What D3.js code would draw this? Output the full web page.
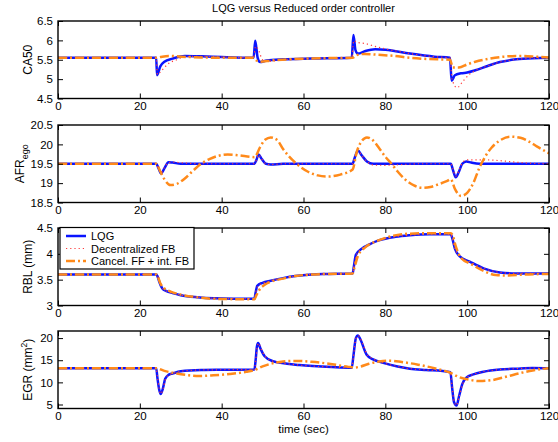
<!DOCTYPE html>
<html>
<head>
<meta charset="utf-8">
<script src="https://cdn.jsdelivr.net/npm/d3@7"></script>
<style>
  body { margin: 0; background: #fff; }
  svg { font-family: "Liberation Sans", Arial, Helvetica, sans-serif; }
</style>
</head>
<body>
<svg id="chart" width="558" height="442"></svg>
<script>
// ---- Data ([time (sec), value])
const xTicks = [0, 20, 40, 60, 80, 100, 120];

const ca50Lqg = [[0,5.55],[24,5.55],[24.2,5.1],[25,5.33],[26,5.45],[28,5.53],[31,5.6],[35,5.59],[40,5.57],[47.8,5.55],[48.2,5.99],[48.8,5.55],[49.4,5.44],[51,5.48],[55,5.51],[62,5.53],[71.8,5.55],[72.2,6.14],[72.7,5.75],[73.3,5.66],[75,5.72],[77.5,5.77],[80,5.76],[86,5.66],[92,5.58],[95.8,5.55],[96.2,4.96],[97,5.1],[98.5,5.15],[100,5.17],[102,5.23],[105,5.34],[108,5.44],[112,5.51],[116,5.54],[120,5.55]];
const ca50Dec = [[0,5.55],[24,5.55],[24.3,5.12],[25,5.18],[26,5.3],[27,5.4],[29,5.5],[31,5.58],[35,5.59],[40,5.57],[47.8,5.55],[48.3,5.85],[49,5.75],[50,5.5],[51,5.46],[55,5.5],[62,5.53],[71.8,5.55],[72.3,6.0],[73,5.95],[75,5.92],[77,5.86],[80,5.78],[83,5.72],[86,5.66],[92,5.58],[95.8,5.55],[96.3,5.0],[97.5,4.78],[99,4.95],[100.5,5.12],[102,5.22],[105,5.34],[108,5.44],[112,5.51],[116,5.54],[120,5.55]];
const ca50Ff = [[0,5.55],[24,5.55],[25,5.57],[27,5.6],[30,5.58],[35,5.56],[40,5.55],[47.8,5.55],[48.5,5.48],[49.5,5.45],[52,5.48],[56,5.51],[65,5.54],[72,5.55],[73,5.62],[75,5.65],[78,5.63],[82,5.6],[86,5.55],[90,5.52],[95.8,5.5],[96.5,5.3],[98,5.3],[100,5.38],[102,5.45],[105,5.52],[109,5.58],[113,5.6],[117,5.58],[120,5.56]];

const afrLqg = [[0,19.5],[24,19.5],[24.5,19.4],[25.2,19.25],[26,19.38],[27,19.54],[28,19.53],[30,19.5],[48,19.5],[48.5,19.6],[49,19.74],[49.8,19.62],[50.8,19.5],[52,19.48],[55,19.5],[72,19.5],[72.5,19.65],[73.3,19.84],[74.2,19.72],[75.5,19.56],[77,19.5],[96,19.5],[96.5,19.35],[97.2,19.15],[98,19.3],[98.8,19.5],[99.8,19.56],[101,19.53],[103,19.5],[120,19.5]];
const afrDec = [[0,19.5],[24,19.5],[24.5,19.4],[25.2,19.27],[26,19.4],[27,19.53],[28,19.54],[31,19.52],[35,19.5],[48,19.5],[48.5,19.6],[49,19.73],[49.8,19.62],[50.8,19.5],[52,19.48],[55,19.5],[72,19.5],[72.5,19.65],[73.3,19.82],[74.2,19.72],[75.5,19.56],[77,19.47],[80,19.46],[84,19.48],[88,19.5],[96,19.5],[96.5,19.37],[97.2,19.18],[98,19.32],[99,19.55],[100,19.6],[104,19.6],[108,19.58],[112,19.54],[116,19.51],[120,19.5]];
const afrFf = [[0,19.5],[24,19.5],[25,19.3],[26,19.1],[27.5,18.95],[29,18.98],[31,19.12],[33,19.32],[35,19.5],[37,19.62],[39,19.7],[41.5,19.74],[44,19.72],[47,19.68],[48,19.67],[49.4,19.93],[50.6,20.12],[52,20.18],[53.5,20.12],[55,19.88],[58.3,19.5],[61,19.3],[63.5,19.2],[66,19.17],[69,19.22],[72,19.35],[73,19.8],[74.2,20.08],[75.5,20.18],[77,20.1],[78.5,19.9],[80,19.68],[81.5,19.5],[83,19.3],[85,19.08],[87,18.94],[89,18.88],[91,18.9],[93,18.97],[95,19.05],[96,19.1],[97,18.85],[98.5,18.67],[100,18.75],[101.5,19.0],[103,19.4],[104.5,19.7],[106,19.92],[108,20.1],[110.5,20.2],[113,20.17],[115,20.08],[117,19.95],[120,19.77]];

const rblLqg = [[0,3.6],[24,3.6],[24.3,3.57],[24.8,3.45],[25.5,3.33],[26.5,3.28],[28,3.24],[30,3.2],[34,3.16],[38,3.14],[48,3.13],[48.3,3.25],[48.7,3.38],[50,3.44],[52,3.48],[55,3.53],[58,3.57],[62,3.6],[66,3.61],[72,3.62],[72.3,3.75],[72.8,3.98],[74.4,4.11],[76,4.18],[78.4,4.26],[82.5,4.33],[86,4.36],[90.7,4.38],[96,4.38],[96.3,4.32],[97,4.1],[98.2,3.95],[100.6,3.85],[104,3.72],[108,3.64],[112,3.62],[120,3.62]];
const rblDec = [[0,3.6],[24,3.6],[24.3,3.57],[24.8,3.46],[25.5,3.34],[26.5,3.28],[28,3.24],[30,3.2],[34,3.16],[38,3.14],[48,3.13],[48.3,3.24],[48.8,3.37],[50,3.43],[52,3.48],[55,3.53],[58,3.57],[62,3.6],[66,3.61],[72,3.62],[72.3,3.74],[72.9,3.97],[74.4,4.11],[76,4.18],[78.4,4.26],[82.5,4.33],[86,4.36],[90.7,4.38],[96,4.38],[96.3,4.31],[97,4.1],[98.2,3.95],[100.6,3.85],[104,3.72],[108,3.64],[112,3.62],[120,3.62]];
const rblFf = [[0,3.6],[24,3.6],[24.4,3.56],[25,3.43],[26,3.33],[27.5,3.27],[30,3.21],[34,3.16],[38,3.13],[48,3.12],[48.5,3.2],[49.2,3.3],[50.5,3.4],[52,3.46],[55,3.52],[58,3.57],[62,3.6],[66,3.61],[72,3.62],[72.5,3.75],[73.3,3.96],[75,4.12],[78,4.25],[82,4.35],[86,4.39],[91,4.4],[96,4.4],[96.5,4.35],[97.2,4.15],[98.5,3.92],[101,3.8],[104,3.67],[107,3.59],[110,3.58],[114,3.6],[120,3.61]];

const egrLqg = [[0,13.2],[24,13.2],[24.3,11],[24.7,8.5],[25.1,7.37],[25.6,8.5],[26.2,10.8],[27,11.7],[28,12.0],[30,12.5],[35,12.8],[40,12.85],[48,12.9],[48.3,15],[48.6,18],[48.9,18.9],[49.5,17.6],[50.5,15.9],[52.5,14.8],[56,14.2],[59,13.9],[67,13.45],[71.8,13.3],[72.2,16],[72.8,20],[73.3,20.6],[74,19.5],[75.4,16.3],[77,15.2],[79.5,14.4],[83,13.6],[86,13.1],[90,12.8],[94,12.56],[95.9,12.3],[96.3,9],[96.8,5.5],[97.4,4.77],[98,6.8],[98.8,9.6],[99.8,11.06],[101.5,11.8],[104,12.4],[108,12.9],[112,13.1],[116,13.25],[120,13.2]];
const egrDec = [[0,13.2],[24,13.2],[24.3,11.2],[24.7,8.7],[25.1,7.4],[25.7,8.6],[26.3,10.8],[27.1,11.7],[28,12.0],[30,12.5],[35,12.8],[40,12.85],[48,12.9],[48.3,14.8],[48.7,18],[49,18.8],[49.6,17.6],[50.6,15.9],[52.5,14.8],[56,14.2],[59,13.9],[67,13.45],[71.8,13.3],[72.2,15.8],[72.8,19.8],[73.4,20.5],[74.1,19.5],[75.5,16.4],[77,15.3],[79.5,14.4],[83,13.6],[86,13.1],[90,12.8],[94,12.56],[95.9,12.3],[96.3,9.2],[96.8,5.7],[97.4,4.8],[98,6.7],[98.9,9.6],[99.9,11.06],[101.5,11.8],[104,12.4],[108,12.9],[112,13.1],[116,13.25],[120,13.2]];
const egrFf = [[0,13.2],[24,13.2],[26,12.6],[29,12.0],[32,11.6],[34.5,11.45],[38,11.6],[42,11.9],[46,12.4],[48,12.8],[50,13.6],[52,14.2],[55,14.7],[58,14.85],[62,14.65],[67,14.1],[71,13.5],[72.5,13.35],[74,13.6],[76,14.2],[78.5,14.7],[81,14.9],[84,14.6],[88,14.0],[92,13.2],[95.8,12.2],[98,11.2],[100.5,10.6],[103,10.3],[106,10.5],[110,11.4],[113,12.1],[116,12.7],[120,13.2]];

const legendLabels = ['LQG', 'Decentralized FB', 'Cancel. FF + int. FB'];

// ---- Styles of the three series
const seriesStyle = [
    { color: '#0a14ff', width: 2.5, dash: null },
    { color: '#ff3a3a', width: 1.2, dash: '1.2,3' },
    { color: '#ff8a1a', width: 2.5, dash: '9,3,2,3' }
];

const panels = [
    { top: 21,  domain: [4.5, 6.5],   ticks: [4.5, 5, 5.5, 6, 6.5], label: 'ca50', data: [ca50Lqg, ca50Dec, ca50Ff] },
    { top: 125, domain: [18.5, 20.5], ticks: [18.5, 19, 19.5, 20, 20.5], label: 'afr', data: [afrLqg, afrDec, afrFf] },
    { top: 228, domain: [3, 4.5],     ticks: [3, 3.5, 4, 4.5], label: 'rbl', data: [rblLqg, rblDec, rblFf] },
    { top: 331, domain: [4.1, 21.6],  ticks: [5, 10, 15, 20], label: 'egr', data: [egrLqg, egrDec, egrFf] }
];

const svg = d3.select('#chart');
const left = 58, right = 549, plotH = 77.5;
const tickLen = 5;

const x = d3.scaleLinear().domain([0, 120]).range([left, right]);

// Title
svg.append('text')
    .attr('x', (left + right) / 2)
    .attr('y', 12)
    .attr('text-anchor', 'middle')
    .style('font-size', '11px')
    .text('LQG versus Reduced order controller');

panels.forEach((p, i) => {
    const y = d3.scaleLinear().domain(p.domain).range([p.top + plotH, p.top]);
    const g = svg.append('g');

    const clipId = 'clip' + i;
    svg.append('clipPath').attr('id', clipId)
        .append('rect')
        .attr('x', left).attr('y', p.top)
        .attr('width', right - left).attr('height', plotH);

    // Lines
    const line = d3.line()
        .x(d => x(d[0]))
        .y(d => y(d[1]))
        .curve(d3.curveMonotoneX);

    const lines = g.append('g').attr('clip-path', `url(#${clipId})`);
    p.data.forEach((ser, k) => {
        const st = seriesStyle[k];
        lines.append('path')
            .datum(ser)
            .attr('d', line)
            .attr('fill', 'none')
            .attr('stroke', st.color)
            .attr('stroke-width', st.width)
            .attr('stroke-linejoin', 'round')
            .attr('stroke-dasharray', st.dash);
    });

    // Axes (ticks inside, mirrored on top/right)
    const axisB = g.append('g')
        .attr('transform', `translate(0,${p.top + plotH})`)
        .call(d3.axisBottom(x).tickValues(xTicks).tickSize(-tickLen).tickPadding(3).tickFormat(d3.format('d')));
    const axisT = g.append('g')
        .attr('transform', `translate(0,${p.top})`)
        .call(d3.axisTop(x).tickValues(xTicks).tickSize(-tickLen).tickFormat(''));
    const axisL = g.append('g')
        .attr('transform', `translate(${left},0)`)
        .call(d3.axisLeft(y).tickValues(p.ticks).tickSize(-tickLen).tickPadding(5).tickFormat(d3.format('')));
    const axisR = g.append('g')
        .attr('transform', `translate(${right},0)`)
        .call(d3.axisRight(y).tickValues(p.ticks).tickSize(-tickLen).tickFormat(''));

    [axisB, axisT, axisL, axisR].forEach(a => {
        a.select('.domain').remove();
        a.selectAll('.tick line').attr('stroke', '#000').attr('stroke-width', 1);
        a.selectAll('text')
            .style('font-size', '11.5px')
            .style('font-family', '"Liberation Sans", Arial, sans-serif')
            .attr('fill', '#000');
    });

    g.append('rect')
        .attr('x', left).attr('y', p.top)
        .attr('width', right - left).attr('height', plotH)
        .attr('fill', 'none')
        .attr('stroke', '#000')
        .attr('stroke-width', 1.4);

    // Y labels
    const lab = g.append('text')
        .attr('transform', `translate(${i === 1 ? 24 : 32},${p.top + plotH / 2}) rotate(-90)`)
        .attr('text-anchor', 'middle')
        .style('font-size', '12px');
    if (p.label === 'ca50') {
        lab.text('CA50');
    } else if (p.label === 'afr') {
        lab.append('tspan').text('AFR');
        lab.append('tspan').attr('dy', 4).style('font-size', '9px').text('ego');
    } else if (p.label === 'rbl') {
        lab.text('RBL (mm)');
    } else {
        lab.append('tspan').text('EGR (mm');
        lab.append('tspan').attr('dy', -5).style('font-size', '8.5px').text('2');
        lab.append('tspan').attr('dy', 5).text(')');
    }

    // Legend in the RBL panel
    if (p.label === 'rbl') {
        const lg = g.append('g');
        lg.append('rect')
            .attr('x', 60).attr('y', 227.5)
            .attr('width', 134).attr('height', 41.5)
            .attr('fill', '#fff')
            .attr('stroke', '#000')
            .attr('stroke-width', 1.2);
        legendLabels.forEach((txt, k) => {
            const st = seriesStyle[k];
            const ly = 236 + k * 12.5;
            lg.append('line')
                .attr('x1', 66).attr('x2', 86)
                .attr('y1', ly).attr('y2', ly)
                .attr('stroke', st.color)
                .attr('stroke-width', st.width)
                .attr('stroke-dasharray', st.dash);
            lg.append('text')
                .attr('x', 91).attr('y', ly + 4)
                .style('font-size', '11px')
                .text(txt);
        });
    }
});

// X label
svg.append('text')
    .attr('x', (left + right) / 2)
    .attr('y', 433)
    .attr('text-anchor', 'middle')
    .style('font-size', '11.5px')
    .text('time (sec)');
</script>
</body>
</html>
